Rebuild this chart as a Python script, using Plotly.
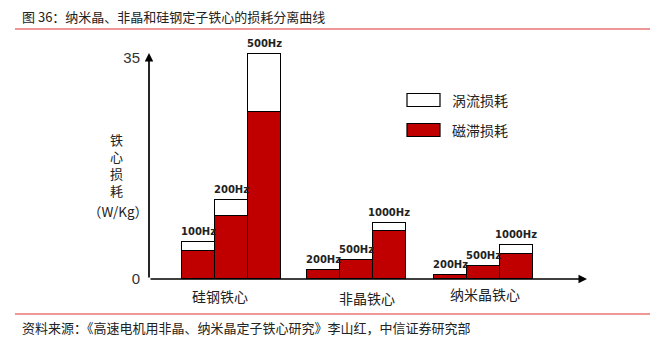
import plotly.graph_objects as go

# ---- data ----
groups = ["硅钢铁心", "非晶铁心", "纳米晶铁心"]
freq_labels = ["100Hz", "200Hz", "500Hz",
               "200Hz", "500Hz", "1000Hz",
               "200Hz", "500Hz", "1000Hz"]
hysteresis = [4.4, 10.0, 26.5, 1.4, 3.0, 7.6, 0.7, 2.1, 3.9]
eddy = [1.4, 2.5, 9.2, 0.0, 0.0, 1.3, 0.0, 0.0, 1.5]
y_ticks = [0, 35]
series_names = ["涡流损耗", "磁滞损耗"]

# ---- layout geometry (pixels) ----
W, H = 650, 340
L, R, T, B = 149, 63, 53, 61
PW, PH = W - L - R, H - T - B
YMAX = 35.8
BW = 33
group_centers = [82, 207, 334]
xs = [gc + (k - 1) * BW for gc in group_centers for k in range(3)]

def pxx(px):
    return (px - L) / PW

def pyy(py):
    return (H - B - py) / PH

RED = "#C00000"
CJK = "Noto Sans CJK SC"

fig = go.Figure()
fig.add_trace(go.Bar(x=xs, y=hysteresis, width=BW, name=series_names[1],
                     marker=dict(color=RED, line=dict(color="black", width=1.2)),
                     showlegend=False))
fig.add_trace(go.Bar(x=xs, y=eddy, width=BW, name=series_names[0],
                     marker=dict(color="white", line=dict(color="black", width=1.2)),
                     showlegend=False))

totals = [h + e for h, e in zip(hysteresis, eddy)]
ann = []
for x, t, lab in zip(xs, totals, freq_labels):
    ann.append(dict(x=x, y=t, xref="x", yref="y", text="<b>" + lab + "</b>",
                    showarrow=False, xanchor="center", yanchor="bottom", yshift=3,
                    font=dict(family="DejaVu Sans", size=10, color="#222")))

# axes arrows
ann.append(dict(x=0, y=YMAX, xref="x", yref="y", ax=0, ay=0, axref="x", ayref="y",
                text="", showarrow=True, arrowhead=2, arrowsize=1, arrowwidth=1.7,
                arrowcolor="black"))
ann.append(dict(x=PW, y=0, xref="x", yref="y", ax=0, ay=0, axref="x", ayref="y",
                text="", showarrow=True, arrowhead=2, arrowsize=1, arrowwidth=1.7,
                arrowcolor="black"))

def txt(px, py, text, size, anchor="center", family=CJK, color="#222"):
    ann.append(dict(x=pxx(px), y=pyy(py), xref="paper", yref="paper", text=text,
                    showarrow=False, xanchor=anchor, yanchor="middle",
                    font=dict(family=family, size=size, color=color)))

# category labels
cat_pos = [(220, 296), (367, 298), (485, 294)]
for g, (cx, cy) in zip(groups, cat_pos):
    txt(cx, cy, g, 14)

# y-axis title (vertical, one char per line)
txt(116, 165, "<br>".join("铁心损耗"), 13)
txt(118, 211, "（W/Kg）", 13.5)

# legend
shapes = []
leg = [(series_names[0], "white", 100), (series_names[1], RED, 130)]
for name, col, cy in leg:
    shapes.append(dict(type="rect", xref="paper", yref="paper",
                       x0=pxx(407), x1=pxx(440), y0=pyy(cy + 6.5), y1=pyy(cy - 6.5),
                       fillcolor=col, line=dict(color="black", width=1.2)))
    txt(450, cy, name, 14, anchor="left")

# title and source with red rules
txt(20, 17, "图 36：纳米晶、非晶和硅钢定子铁心的损耗分离曲线", 13, anchor="left")
txt(20, 327, "资料来源：《高速电机用非晶、纳米晶定子铁心研究》李山红，中信证券研究部",
    13, anchor="left")
for ly in (29, 314):
    shapes.append(dict(type="line", xref="paper", yref="paper",
                       x0=pxx(15), x1=pxx(650), y0=pyy(ly), y1=pyy(ly),
                       line=dict(color="#E03030", width=1.2)))

fig.update_layout(
    width=W, height=H,
    margin=dict(l=L, r=R, t=T, b=B),
    barmode="stack", bargap=0,
    plot_bgcolor="white", paper_bgcolor="white",
    xaxis=dict(range=[0, PW], showgrid=False, zeroline=False, showline=False,
               showticklabels=False, fixedrange=True),
    yaxis=dict(range=[0, YMAX], showgrid=False, zeroline=False, showline=False,
               tickvals=y_ticks, ticks="", ticklabelstandoff=8,
               tickfont=dict(family="Liberation Sans", size=15, color="#333")),
    annotations=ann, shapes=shapes,
)
fig.update_traces(cliponaxis=False)
fig.write_html("out.html")
